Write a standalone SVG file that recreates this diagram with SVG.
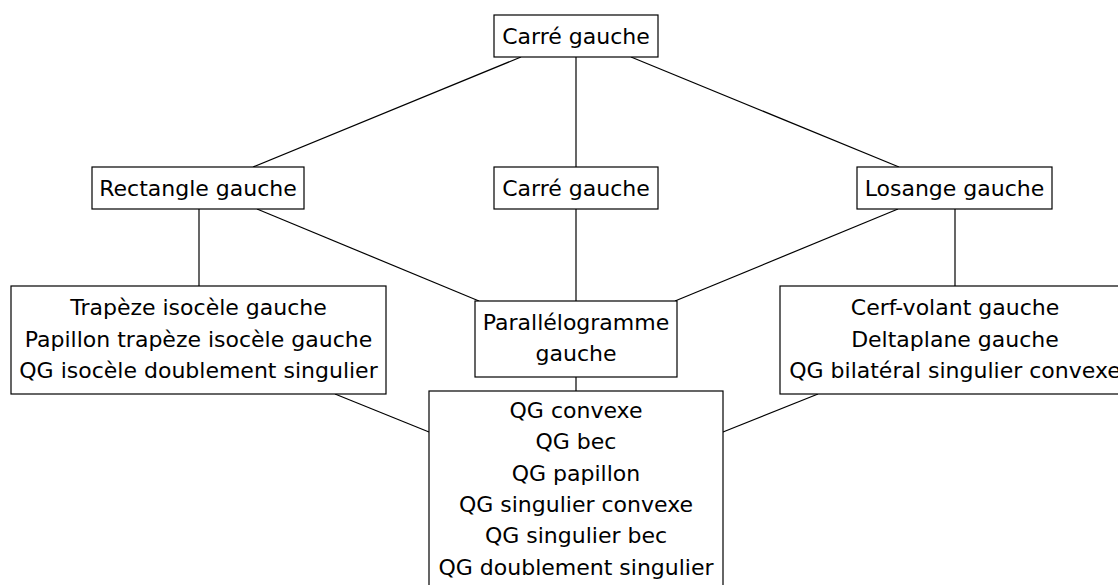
<svg xmlns="http://www.w3.org/2000/svg" width="1118" height="585" viewBox="0 0 1118 585">
<style>
.box{fill:#fff;stroke:#000;stroke-width:1.2}
.lbl{font-family:"DejaVu Sans",sans-serif;font-size:22px;fill:#000;text-anchor:middle}
.edge{stroke:#000;stroke-width:1.2;fill:none}
</style>
<rect width="1118" height="585" fill="#fff"/>
<g id="connectors">
<line class="edge" x1="521" y1="57" x2="253" y2="167"/>
<line class="edge" x1="576" y1="57" x2="576" y2="167"/>
<line class="edge" x1="631" y1="57" x2="899" y2="167"/>
<line class="edge" x1="199" y1="209" x2="199" y2="286"/>
<line class="edge" x1="257" y1="209" x2="479" y2="301"/>
<line class="edge" x1="576" y1="209" x2="576" y2="301"/>
<line class="edge" x1="898" y1="209" x2="675" y2="301"/>
<line class="edge" x1="955" y1="209" x2="955" y2="286"/>
<line class="edge" x1="335" y1="394" x2="429" y2="432"/>
<line class="edge" x1="576" y1="377" x2="576" y2="391"/>
<line class="edge" x1="818" y1="394" x2="723" y2="432"/>
</g>
<g id="carre-top">
<rect class="box" x="494" y="15" width="164" height="42"/>
<text class="lbl" x="576" y="44">Carré gauche</text>
</g>
<g id="rectangle">
<rect class="box" x="92" y="167" width="212" height="42"/>
<text class="lbl" x="198" y="196">Rectangle gauche</text>
</g>
<g id="carre-mid">
<rect class="box" x="494" y="167" width="164" height="42"/>
<text class="lbl" x="576" y="196">Carré gauche</text>
</g>
<g id="losange">
<rect class="box" x="857" y="167" width="195" height="42"/>
<text class="lbl" x="954.5" y="196">Losange gauche</text>
</g>
<g id="trapeze">
<rect class="box" x="11" y="286" width="375" height="108"/>
<text class="lbl" x="198.5" y="315">Trapèze isocèle gauche</text>
<text class="lbl" x="198.5" y="346.5">Papillon trapèze isocèle gauche</text>
<text class="lbl" x="198.5" y="378">QG isocèle doublement singulier</text>
</g>
<g id="parallelogramme">
<rect class="box" x="475" y="301" width="202" height="76"/>
<text class="lbl" x="576" y="330">Parallélogramme</text>
<text class="lbl" x="576" y="361">gauche</text>
</g>
<g id="cerf-volant">
<rect class="box" x="780" y="286" width="350" height="108"/>
<text class="lbl" x="955" y="315">Cerf-volant gauche</text>
<text class="lbl" x="955" y="346.5">Deltaplane gauche</text>
<text class="lbl" x="955" y="378">QG bilatéral singulier convexe</text>
</g>
<g id="qg">
<rect class="box" x="429" y="391" width="294" height="210"/>
<text class="lbl" x="576" y="418">QG convexe</text>
<text class="lbl" x="576" y="449.3">QG bec</text>
<text class="lbl" x="576" y="480.6">QG papillon</text>
<text class="lbl" x="576" y="512">QG singulier convexe</text>
<text class="lbl" x="576" y="543.3">QG singulier bec</text>
<text class="lbl" x="576" y="574.6">QG doublement singulier</text>
</g>
</svg>
